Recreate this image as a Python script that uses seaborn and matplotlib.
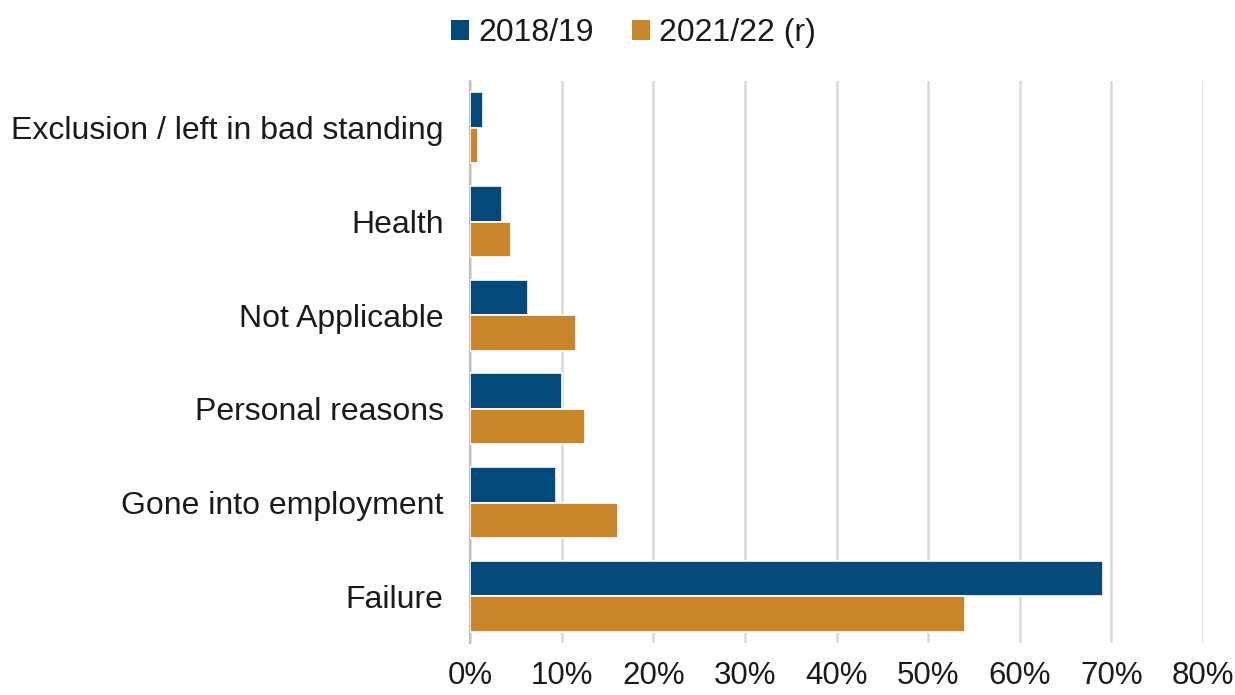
import matplotlib
matplotlib.use("Agg")
import matplotlib.pyplot as plt
import numpy as np
import pandas as pd
import seaborn as sns
from matplotlib.patches import Patch
from matplotlib.ticker import FixedLocator, PercentFormatter

categories = [
    "Exclusion / left in bad standing",
    "Health",
    "Not Applicable",
    "Personal reasons",
    "Gone into employment",
    "Failure",
]
series_names = ["2018/19", "2021/22 (r)"]
values_1819 = [1.4, 3.5, 6.3, 10.0, 9.4, 69.1]
values_2122 = [0.85, 4.5, 11.6, 12.6, 16.2, 54.0]
colors = ["#03497A", "#C8852A"]
x_ticks = [0, 10, 20, 30, 40, 50, 60, 70, 80]

df = pd.DataFrame({
    "reason": categories * 2,
    "year": [series_names[0]] * len(categories) + [series_names[1]] * len(categories),
    "share": values_1819 + values_2122,
})

sns.set_style("white")
plt.rcParams["font.family"] = ["Liberation Sans", "DejaVu Sans"]

fig = plt.figure(figsize=(12.35, 6.95), dpi=100)
ax = fig.add_axes([470 / 1235, 1 - 643 / 695, (1203 - 470) / 1235, (643 - 81) / 695])

sns.barplot(data=df, y="reason", x="share", hue="year", order=categories,
            hue_order=series_names, palette=colors, saturation=1, width=0.76,
            edgecolor="white", linewidth=1.2, legend=False, ax=ax, zorder=3)

ax.set_xlim(0, 80)
ax.set_ylim(len(categories) - 0.5, -0.5)
ax.xaxis.set_major_locator(FixedLocator(x_ticks))
ax.xaxis.set_major_formatter(PercentFormatter(decimals=0))
ax.grid(axis="x", color="#D9D9D9", linewidth=1.8, zorder=0)
ax.set_axisbelow(True)

for side in ["top", "right", "bottom"]:
    ax.spines[side].set_visible(False)
ax.spines["left"].set_color("#BFBFBF")
ax.spines["left"].set_linewidth(1.5)

ax.set_yticks(np.arange(-0.5, len(categories), 1.0), minor=True)
ax.tick_params(axis="y", which="minor", length=7, width=1.5, color="#BFBFBF")
ax.tick_params(axis="y", which="major", length=0, pad=19, labelsize=23, labelcolor="#1a1a1a")
ax.tick_params(axis="x", length=0, pad=13, labelsize=22.5, labelcolor="#1a1a1a")
ax.set_xlabel("")
ax.set_ylabel("")

handles = [Patch(facecolor=c, edgecolor="none") for c in colors]
fig.legend(handles, series_names, loc="upper center", bbox_to_anchor=(0.513, 1.015),
           ncol=2, frameon=False, fontsize=23, handlelength=0.55, handleheight=0.55,
           handletextpad=0.3, columnspacing=1.2, labelcolor="#1a1a1a")

fig.savefig("out.png", dpi=100)
